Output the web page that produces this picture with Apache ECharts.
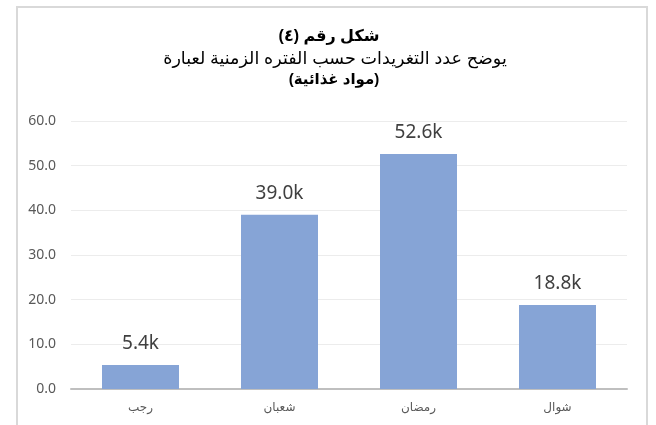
<!DOCTYPE html>
<html>
<head>
<meta charset="utf-8">
<script src="https://cdn.jsdelivr.net/npm/echarts@6/dist/echarts.min.js"></script>
<style>
html,body{margin:0;padding:0;background:#fff;}
#c{width:656px;height:425px;}
</style>
</head>
<body>
<div id="c"></div>
<script>
const categories = ['رجب', 'شعبان', 'رمضان', 'شوال'];
const values = [5.4, 39.0, 52.6, 18.8];
const titleLines = ['شكل رقم (٤)', 'يوضح عدد التغريدات حسب الفتره الزمنية لعبارة', '(مواد غذائية)'];

const chart = echarts.init(document.getElementById('c'), null, {renderer: 'canvas'});
const font = '"Liberation Sans", Arial, "DejaVu Sans", sans-serif';
const numFont = '"Noto Sans", "Open Sans", sans-serif';
chart.setOption({
  animation: false,
  backgroundColor: '#fff',
  graphic: [{
    type: 'rect', shape: {x: 17, y: 7, width: 630, height: 440},
    style: {fill: 'none', stroke: '#d9d9d9', lineWidth: 2}, z: -1
  }],
  title: [
    {text: titleLines[0], left: 324, top: 24, textAlign: 'center',
     textStyle: {fontFamily: font, fontSize: 16, fontWeight: 'bold', color: '#000'}},
    {text: titleLines[1], left: 330, top: 45, textAlign: 'center',
     textStyle: {fontFamily: font, fontSize: 17.5, fontWeight: 'normal', color: '#000'}},
    {text: titleLines[2], left: 329, top: 67, textAlign: 'center',
     textStyle: {fontFamily: font, fontSize: 15, fontWeight: 'bold', color: '#000'}}
  ],
  grid: {left: 71, right: 29, top: 121, bottom: 36, containLabel: false},
  xAxis: {
    type: 'category', data: categories,
    axisLine: {lineStyle: {color: '#bfbfbf', width: 2}},
    axisTick: {show: false},
    axisLabel: {color: '#595959', fontSize: 12, fontFamily: font, margin: 13}
  },
  yAxis: {
    type: 'value', min: 0, max: 60, interval: 10,
    axisLine: {show: false}, axisTick: {show: false},
    splitLine: {lineStyle: {color: '#ececec', width: 1}},
    axisLabel: {color: '#595959', fontSize: 14, fontFamily: numFont, margin: 15,
      formatter: v => v.toFixed(1)}
  },
  series: [{
    type: 'bar', data: values, barWidth: 77,
    itemStyle: {color: '#86a4d6'},
    label: {show: true, position: 'top', distance: 12, color: '#404040',
      fontSize: 19, fontFamily: numFont, formatter: p => p.value.toFixed(1) + 'k'}
  }]
});
</script>
</body>
</html>
